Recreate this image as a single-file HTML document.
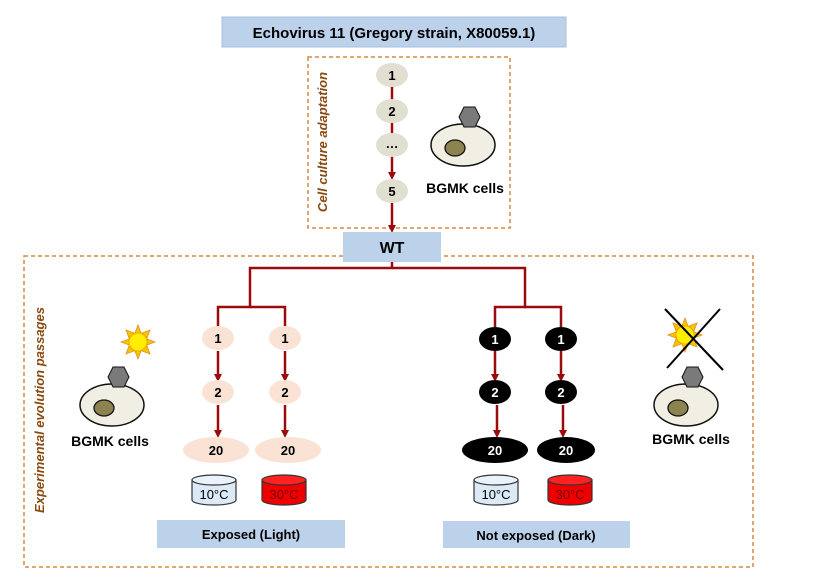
<!DOCTYPE html>
<html><head><style>body{margin:0;background:#fff}svg{display:block}text{font-family:"Liberation Sans",sans-serif;font-weight:bold}</style></head><body>
<svg width="825" height="581" viewBox="0 0 825 581" xmlns="http://www.w3.org/2000/svg">
<defs>
<marker id="a" markerWidth="8" markerHeight="8" refX="4" refY="4" orient="auto" markerUnits="userSpaceOnUse"><path d="M0,0 L8,4 L0,8z" fill="#9b0b0b"/></marker>
<g id="cell"><ellipse cx="0" cy="0" rx="32" ry="21" fill="#f1efe3" stroke="#111" stroke-width="1.5"/><ellipse cx="-8" cy="3" rx="10" ry="8" fill="#8c8350" stroke="#111" stroke-width="1.3"/><polygon points="1,-38 12,-38 17,-28 12,-18 1,-18 -4,-28" fill="#7a7a7a" stroke="#111" stroke-width="1"/></g>
<g id="sun"><g fill="#f7c400" stroke="#e09020" stroke-width="0.8"><polygon points="0,-17 3,-9 -3,-9"/><polygon points="0,17 3,9 -3,9"/><polygon points="-17,0 -9,3 -9,-3"/><polygon points="17,0 9,3 9,-3"/><polygon points="12,-12 4,-9 9,-4"/><polygon points="-12,-12 -4,-9 -9,-4"/><polygon points="12,12 4,9 9,4"/><polygon points="-12,12 -4,9 -9,4"/></g><circle r="9" fill="#ffee00" stroke="#f0b000" stroke-width="1"/></g>
</defs>
<rect x="222" y="17" width="344" height="30" fill="#bcd1ea" stroke="#a8c0dd"/>
<text x="394" y="38" font-size="15" text-anchor="middle">Echovirus 11 (Gregory strain, X80059.1)</text>
<rect x="308" y="57" width="202" height="171" fill="none" stroke="#d98a40" stroke-width="1.5" stroke-dasharray="4,3"/>
<text transform="translate(327,142) rotate(-90)" font-size="13" text-anchor="middle" fill="#8a4a10" font-style="italic">Cell culture adaptation</text>
<g stroke="#9b0b0b" stroke-width="2.5" fill="none">
<line x1="392" y1="86" x2="392" y2="100"/><line x1="392" y1="122" x2="392" y2="134"/>
<line x1="392" y1="156" x2="392" y2="176" marker-end="url(#a)"/><line x1="392" y1="203" x2="392" y2="229" marker-end="url(#a)"/>
<polyline points="392,262 392,268 250,268 250,307 218,307 218,326"/><polyline points="250,307 285,307 285,326"/>
<polyline points="392,268 525,268 525,307 495,307 495,327"/><polyline points="525,307 561,307 561,327"/>
<line x1="218" y1="351" x2="218" y2="378" marker-end="url(#a)"/><line x1="285" y1="351" x2="285" y2="378" marker-end="url(#a)"/>
<line x1="218" y1="405" x2="218" y2="434" marker-end="url(#a)"/><line x1="285" y1="405" x2="285" y2="434" marker-end="url(#a)"/>
<line x1="495" y1="351" x2="495" y2="378" marker-end="url(#a)"/><line x1="561" y1="351" x2="561" y2="378" marker-end="url(#a)"/>
<line x1="497" y1="405" x2="497" y2="434" marker-end="url(#a)"/><line x1="563" y1="405" x2="563" y2="434" marker-end="url(#a)"/>
</g>
<g font-size="13" text-anchor="middle">
<ellipse cx="392" cy="75" rx="16" ry="12" fill="#e1dfd0"/><text x="392" y="80">1</text>
<ellipse cx="392" cy="111" rx="16" ry="12" fill="#e1dfd0"/><text x="392" y="116">2</text>
<ellipse cx="392" cy="145" rx="16" ry="12" fill="#e1dfd0"/><text x="392" y="148">…</text>
<ellipse cx="392" cy="191" rx="16" ry="12" fill="#e1dfd0"/><text x="392" y="196">5</text>
</g>
<use href="#cell" x="463" y="145"/>
<text x="465" y="193" font-size="14" text-anchor="middle">BGMK cells</text>
<rect x="24" y="256" width="729" height="311" fill="none" stroke="#d98a40" stroke-width="1.5" stroke-dasharray="4,3"/>
<rect x="343" y="232" width="98" height="30" fill="#bcd1ea"/>
<text x="392" y="253" font-size="16" text-anchor="middle">WT</text>
<text transform="translate(44,410) rotate(-90)" font-size="13" text-anchor="middle" fill="#8a4a10" font-style="italic">Experimental  evolution passages</text>
<g font-size="13" text-anchor="middle">
<g fill="#fae3d5"><ellipse cx="218" cy="338" rx="16" ry="12"/><ellipse cx="285" cy="338" rx="16" ry="12"/><ellipse cx="218" cy="392" rx="16" ry="12"/><ellipse cx="285" cy="392" rx="16" ry="12"/><ellipse cx="216" cy="450" rx="33" ry="13"/><ellipse cx="288" cy="450" rx="33" ry="13"/></g>
<text x="218" y="343">1</text><text x="285" y="343">1</text><text x="218" y="397">2</text><text x="285" y="397">2</text><text x="216" y="455">20</text><text x="288" y="455">20</text>
<g fill="#000"><ellipse cx="495" cy="339" rx="16" ry="12"/><ellipse cx="561" cy="339" rx="16" ry="12"/><ellipse cx="495" cy="392" rx="16" ry="12"/><ellipse cx="561" cy="392" rx="16" ry="12"/><ellipse cx="495" cy="450" rx="33" ry="13"/><ellipse cx="566" cy="450" rx="29" ry="13"/></g>
<g fill="#fff"><text x="495" y="344">1</text><text x="561" y="344">1</text><text x="495" y="397">2</text><text x="561" y="397">2</text><text x="495" y="455">20</text><text x="566" y="455">20</text></g>
</g>
<g stroke="#333" stroke-width="1.2">
<path d="M192,480 v20 a22,5 0 0 0 44,0 v-20" fill="#dce9f6"/><ellipse cx="214" cy="480" rx="22" ry="5" fill="#eaf2fb"/>
<path d="M262,480 v20 a22,5 0 0 0 44,0 v-20" fill="#ee0000"/><ellipse cx="284" cy="480" rx="22" ry="5" fill="#f22"/>
<path d="M474,480 v20 a22,5 0 0 0 44,0 v-20" fill="#dce9f6"/><ellipse cx="496" cy="480" rx="22" ry="5" fill="#eaf2fb"/>
<path d="M548,480 v20 a22,5 0 0 0 44,0 v-20" fill="#ee0000"/><ellipse cx="570" cy="480" rx="22" ry="5" fill="#f22"/>
</g>
<g font-size="13" text-anchor="middle"><text x="214" y="499" style="font-weight:normal">10°C</text><text x="284" y="499" fill="#700" style="font-weight:normal">30°C</text><text x="496" y="499" style="font-weight:normal">10°C</text><text x="570" y="499" fill="#700" style="font-weight:normal">30°C</text></g>
<rect x="157" y="520" width="188" height="28" fill="#bcd1ea"/><text x="251" y="539" font-size="13" text-anchor="middle">Exposed (Light)</text>
<rect x="443" y="521" width="187" height="27" fill="#bcd1ea"/><text x="536" y="540" font-size="13" text-anchor="middle">Not exposed (Dark)</text>
<use href="#sun" x="138" y="342"/>
<use href="#cell" x="112" y="405"/>
<text x="110" y="446" font-size="14" text-anchor="middle">BGMK cells</text>
<use href="#sun" x="685" y="335"/>
<g stroke="#000" stroke-width="2"><line x1="665" y1="309" x2="723" y2="370"/><line x1="720" y1="309" x2="667" y2="368"/></g>
<use href="#cell" x="686" y="405"/>
<text x="691" y="444" font-size="14" text-anchor="middle">BGMK cells</text>
</svg>
</body></html>
